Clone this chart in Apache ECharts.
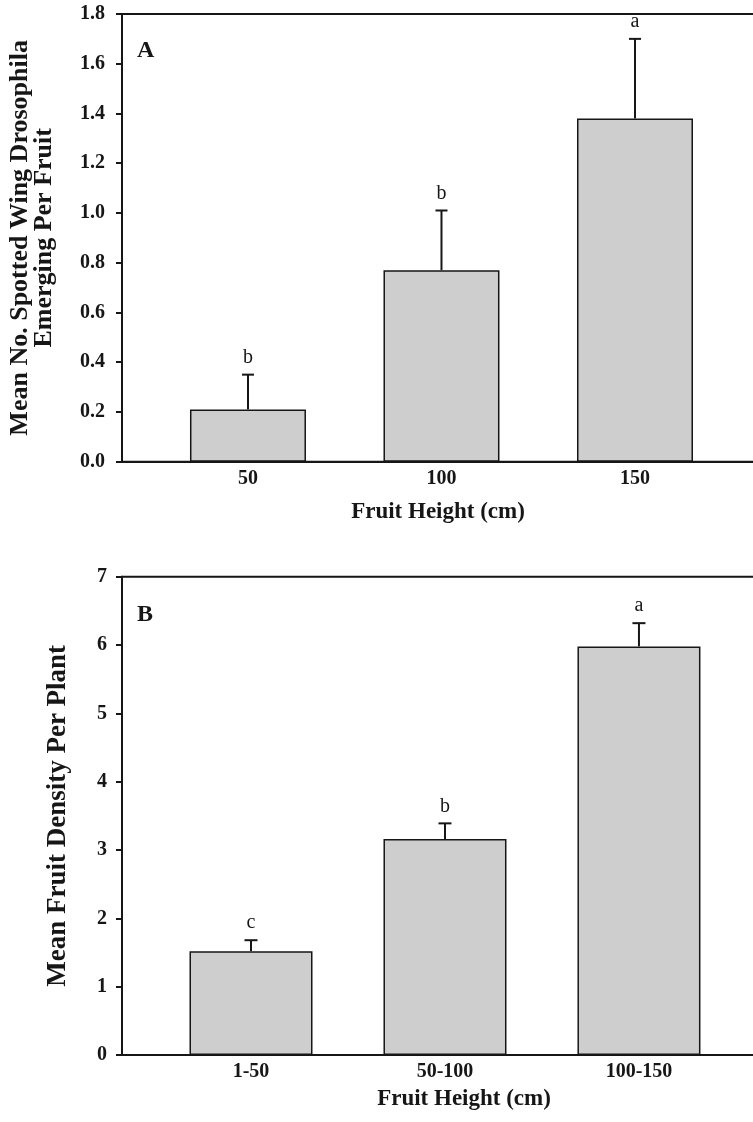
<!DOCTYPE html>
<html>
<head>
<meta charset="utf-8">
<script src="https://cdn.jsdelivr.net/npm/echarts@6/dist/echarts.min.js"></script>
<style>
html,body{margin:0;padding:0;background:#fff;}
#chart{width:753px;height:1122px;}
</style>
</head>
<body>
<div id="chart"></div>
<script>
// ---- Data ----
const catsA = ['50', '100', '150'];
const meanA = [0.21, 0.77, 1.38];
const seA = [0.14, 0.24, 0.32];
const lettersA = ['b', 'b', 'a'];
const yTicksA = { min: 0, max: 1.8, interval: 0.2 };

const catsB = ['1-50', '50-100', '100-150'];
const meanB = [1.52, 3.16, 5.98];
const seB = [0.16, 0.23, 0.34];
const lettersB = ['c', 'b', 'a'];
const yTicksB = { min: 0, max: 7, interval: 1 };

const xTitle = 'Fruit Height (cm)';
const yTitleA = 'Mean No. Spotted Wing Drosophila\nEmerging Per Fruit';
const yTitleB = 'Mean Fruit Density Per Plant';

// ---- Styling ----
const FONT = "'Liberation Serif', 'Times New Roman', serif";
const INK = '#161616';
const BAR = '#cecece';

function barData(means) { return means.map((v, i) => [i, v]); }
function errData(means, se) { return means.map((v, i) => [i, v, se[i]]); }

function errRender(letters, capW) {
  return function (params, api) {
    const x = api.value(0), y = api.value(1), e = api.value(2);
    const p0 = api.coord([x, y]);
    const p1 = api.coord([x, y + e]);
    return {
      type: 'group',
      children: [
        { type: 'line', shape: { x1: p0[0], y1: p0[1], x2: p1[0], y2: p1[1] },
          style: { stroke: INK, lineWidth: 2 } },
        { type: 'line', shape: { x1: p1[0] - capW / 2, y1: p1[1], x2: p1[0] + capW / 2, y2: p1[1] },
          style: { stroke: INK, lineWidth: 2 } },
        { type: 'text', x: p1[0], y: p1[1] - 7,
          style: { text: letters[params.dataIndex], fill: INK, font: '20px ' + FONT,
                   align: 'center', verticalAlign: 'bottom' } }
      ]
    };
  };
}

function xAxisOf(gridIndex, cats, min, max, gap, shift) {
  return {
    type: 'value', gridIndex: gridIndex, min: min, max: max,
    axisLine: { onZero: false, lineStyle: { color: INK, width: 2 } },
    axisTick: { show: false },
    splitLine: { show: false },
    axisLabel: {
      customValues: [0, 1, 2],
      formatter: v => cats[Math.round(v)] || '',
      color: INK, fontFamily: FONT, fontWeight: 'bold', fontSize: 20, margin: 7
    },
    name: xTitle, nameLocation: 'middle', nameGap: gap,
    nameTextStyle: { color: INK, fontFamily: FONT, fontWeight: 'bold', fontSize: 23,
                     padding: [0, 0, 0, shift] }
  };
}

function yAxisOf(gridIndex, t, name, gap, fs, lh, dec, margin) {
  return {
    type: 'value', gridIndex: gridIndex, min: t.min, max: t.max, interval: t.interval,
    axisLine: { show: true, onZero: false, lineStyle: { color: INK, width: 2 } },
    axisTick: { show: true, length: 6, lineStyle: { color: INK, width: 2 } },
    splitLine: { show: false },
    axisLabel: {
      formatter: v => v.toFixed(dec),
      color: INK, fontFamily: FONT, fontWeight: 'bold', fontSize: 20, margin: margin
    },
    name: name, nameLocation: 'middle', nameGap: gap, nameRotate: 90,
    nameTextStyle: { color: INK, fontFamily: FONT, fontWeight: 'bold', fontSize: fs, lineHeight: lh }
  };
}

const chart = echarts.init(document.getElementById('chart'), null, { renderer: 'canvas' });
chart.setOption({
  animation: false,
  backgroundColor: '#fff',
  title: [
    { text: 'A', left: 132, top: 34, textStyle: { color: INK, fontFamily: FONT, fontWeight: 'bold', fontSize: 24 } },
    { text: 'B', left: 132, top: 598, textStyle: { color: INK, fontFamily: FONT, fontWeight: 'bold', fontSize: 24 } }
  ],
  grid: [
    { left: 122, top: 14, right: -7, height: 447.7, show: true, borderColor: INK, borderWidth: 2,
      outerBoundsMode: 'none', containLabel: false },
    { left: 122, top: 576.7, right: -7, height: 478.3, show: true, borderColor: INK, borderWidth: 2,
      outerBoundsMode: 'none', containLabel: false }
  ],
  xAxis: [
    xAxisOf(0, catsA, -0.651, 2.646, 39, -6),
    xAxisOf(1, catsB, -0.665, 2.624, 33, 46)
  ],
  yAxis: [
    yAxisOf(0, yTicksA, yTitleA, 66, 26, 24, 1, 17),
    yAxisOf(1, yTicksB, yTitleB, 50, 27, 27, 0, 15)
  ],
  series: [
    { type: 'bar', xAxisIndex: 0, yAxisIndex: 0, data: barData(meanA), barWidth: 116,
      itemStyle: { color: BAR, borderColor: INK, borderWidth: 1.5 } },
    { type: 'custom', xAxisIndex: 0, yAxisIndex: 0, data: errData(meanA, seA), z: 5,
      renderItem: errRender(lettersA, 12) },
    { type: 'bar', xAxisIndex: 1, yAxisIndex: 1, data: barData(meanB), barWidth: 123,
      itemStyle: { color: BAR, borderColor: INK, borderWidth: 1.5 } },
    { type: 'custom', xAxisIndex: 1, yAxisIndex: 1, data: errData(meanB, seB), z: 5,
      renderItem: errRender(lettersB, 13) }
  ]
});
</script>
</body>
</html>
